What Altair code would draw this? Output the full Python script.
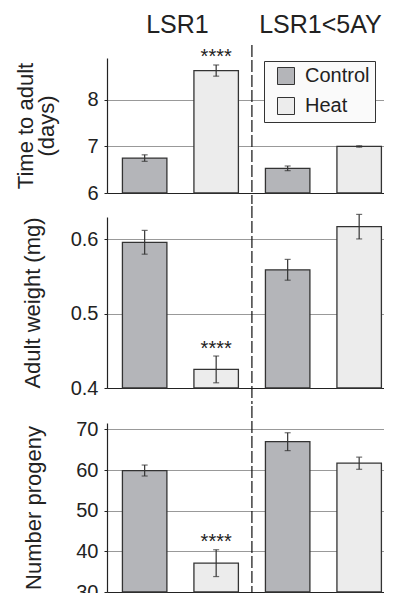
import altair as alt
import pandas as pd

FONT = "Liberation Sans"

genotypes = ["LSR1", "LSR1", "LSR1<5AY", "LSR1<5AY"]
treatments = ["Control", "Heat", "Control", "Heat"]

time_mean = [6.75, 8.63, 6.53, 7.00]
time_err = [0.07, 0.12, 0.05, 0.015]
time_stars = ["", "****", "", ""]

weight_mean = [0.596, 0.425, 0.559, 0.617]
weight_err = [0.016, 0.018, 0.014, 0.0165]
weight_stars = ["", "****", "", ""]

progeny_mean = [59.9, 37.1, 67.0, 61.7]
progeny_err = [1.35, 3.3, 2.2, 1.5]
progeny_stars = ["", "****", "", ""]

header_labels = ["LSR1", "LSR1<5AY"]
treatment_names = ["Control", "Heat"]
treatment_colors = ["#b4b5b9", "#ececec"]

keys = [g + " " + t for g, t in zip(genotypes, treatments)]

W = 277
P_IN = 0.378
P_OUT = 0.126
ALIGN = 0.856
STEP = W / (len(keys) - P_IN + 2 * P_OUT)
GAP_HALF = P_IN * STEP / 2  # half of the gap between two bars, px


def make_row(mean, err, stars, domain, ticks, fmt, title, height, title_x,
             rule_top, rule_bottom, legend=False, headers=False):
    df = pd.DataFrame({
        "key": keys,
        "genotype": genotypes,
        "treatment": treatments,
        "mean": mean,
        "lo": [m - e for m, e in zip(mean, err)],
        "hi": [m + e for m, e in zip(mean, err)],
        "stars": stars,
    })
    xscale = alt.Scale(domain=keys, paddingInner=P_IN, paddingOuter=P_OUT, align=ALIGN)
    x = alt.X("key:N", scale=xscale,
              axis=alt.Axis(labels=False, ticks=False, title=None, grid=False,
                            domainColor="#222", domainWidth=1.2))
    yscale = alt.Scale(domain=domain, nice=False, zero=False)
    yaxis = alt.Axis(values=ticks, format=fmt, title=title, grid=True,
                     gridColor="#999999", gridWidth=1, domainColor="#222",
                     domainWidth=1.2, tickSize=3, tickColor="#222",
                     labelFontSize=20, labelPadding=6, labelColor="#222",
                     labelFont=FONT, titleFont=FONT, titleFontSize=22,
                     titleFontWeight="normal", titleColor="#222",
                     titleX=title_x, titleBaseline="alphabetic",
                     titleLineHeight=21.5)
    if legend:
        leg = alt.Legend(orient="none", legendX=157, legendY=3, title=None,
                         strokeColor="#333", fillColor="#fafafa", padding=5,
                         symbolType="square", symbolSize=289,
                         symbolStrokeColor="#333", symbolStrokeWidth=1,
                         symbolOffset=7, labelOffset=9,
                         labelFontSize=20, labelFont=FONT, labelColor="#222",
                         rowPadding=8)
    else:
        leg = None
    color = alt.Color("treatment:N",
                      scale=alt.Scale(domain=treatment_names, range=treatment_colors),
                      legend=leg)
    base = alt.Chart(df)
    bars = base.mark_bar(stroke="#333", strokeWidth=1.3).encode(
        x=x,
        y=alt.Y("mean:Q", scale=yscale, axis=yaxis),
        y2=alt.datum(domain[0]),
        color=color,
    )
    err_rule = base.mark_rule(color="#333", strokeWidth=1.2).encode(
        x=x, y="lo:Q", y2="hi:Q")
    cap_lo = base.mark_tick(color="#333", thickness=1.2, size=6).encode(
        x=x, y="lo:Q")
    cap_hi = base.mark_tick(color="#333", thickness=1.2, size=6).encode(
        x=x, y="hi:Q")
    star_txt = base.transform_filter("datum.stars != ''").mark_text(
        font=FONT, fontSize=20, baseline="alphabetic", dy=-1.5, color="#222"
    ).encode(x=x, y="hi:Q", text="stars:N")
    # dashed divider between the two genotypes (just before the 3rd bar)
    div = alt.Chart(pd.DataFrame({"key": [keys[2]]})).mark_rule(
        color="#111", strokeWidth=1.2, strokeDash=[12, 3]
    ).encode(x=alt.X("key:N", bandPosition=0),
             xOffset=alt.value(-GAP_HALF),
             y=alt.value(rule_top), y2=alt.value(height + rule_bottom))
    layers = [bars, err_rule, cap_lo, cap_hi, star_txt, div]
    if headers:
        hdr_df = pd.DataFrame({"key": [keys[0], keys[2]], "label": header_labels})
        hdr = alt.Chart(hdr_df).mark_text(
            font=FONT, fontSize=25, baseline="alphabetic", color="#222",
            dx=GAP_HALF - 3
        ).encode(x=alt.X("key:N", bandPosition=1), y=alt.value(-24.7),
                 text="label:N")
        layers.append(hdr)
    return alt.layer(*layers).properties(width=W, height=height)


row1 = make_row(time_mean, time_err, time_stars, [6, 8.9], [6, 7, 8], "d",
                ["Time to adult", "(days)"], 135, -75, -13, 11,
                legend=True, headers=True)
row2 = make_row(weight_mean, weight_err, weight_stars, [0.4, 0.63], [0.4, 0.5, 0.6], ".1f",
                "Adult weight (mg)", 171, -67.5, -11, 16)
row3 = make_row(progeny_mean, progeny_err, progeny_stars, [30, 71.6], [30, 40, 50, 60, 70], "d",
                "Number progeny", 169, -67, -17, 10)

chart = alt.vconcat(row1, row2, row3, spacing=0).resolve_scale(
    color="independent").resolve_legend(color="independent").properties(
    padding={"left": 6, "top": 5, "right": 0, "bottom": 0}
).configure_view(stroke=None)

chart.save("out.html", embed_options={"renderer": "svg", "actions": False})
